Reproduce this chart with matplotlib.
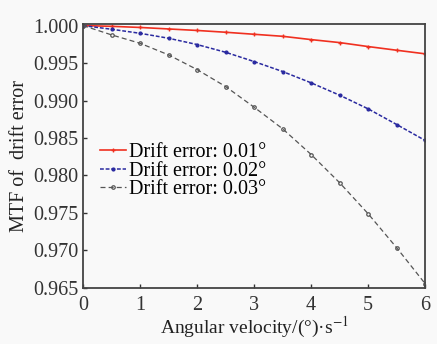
import matplotlib
matplotlib.use("Agg")
import matplotlib.pyplot as plt

plt.rcParams['font.family'] = ['Liberation Serif', 'DejaVu Serif']
plt.rcParams['mathtext.fontset'] = 'stix'

velocity = [0, 0.5, 1, 1.5, 2, 2.5, 3, 3.5, 4, 4.5, 5, 5.5, 6]
mtf_001 = [1.0, 0.99990, 0.99975, 0.99955, 0.99935, 0.99911, 0.99884, 0.99857, 0.99813, 0.99773, 0.99720, 0.99671, 0.99623]
mtf_002 = [1.0, 0.99951, 0.99897, 0.99831, 0.99747, 0.99644, 0.99520, 0.99387, 0.99236, 0.99071, 0.98889, 0.98680, 0.98467]
mtf_003 = [1.0, 0.99876, 0.99764, 0.99609, 0.99413, 0.99187, 0.98911, 0.98623, 0.98280, 0.97903, 0.97489, 0.97036, 0.96556]
labels = ['Drift error: 0.01°', 'Drift error: 0.02°', 'Drift error: 0.03°']

fig = plt.figure(figsize=(4.37, 3.44), dpi=100, facecolor='#f9f9f9')
ax = fig.add_axes([0.190, 0.163, 0.783, 0.767])
ax.set_facecolor('#f9f9f9')

ax.plot(velocity, mtf_001, color='#f03020', lw=1.2, ls='-', marker='+', ms=3.5, mew=1.0, label=labels[0])
ax.plot(velocity, mtf_002, color='#2a2aa0', lw=1.1, ls=(0, (2.5, 1.2)), marker='.', ms=4, label=labels[1])
ax.plot(velocity, mtf_003, color='#555555', lw=0.9, ls=(0, (4, 2.5)), marker='o', ms=2.5, mfc='none', mew=0.9, label=labels[2])

yt = [0.965, 0.970, 0.975, 0.980, 0.985, 0.990, 0.995, 1.000]
ax.set_xlim(0, 6)
ax.set_ylim(0.965, 1.0002)
ax.set_xticks(range(0, 7))
ax.set_yticks(yt)
ax.set_yticklabels(['%.3f' % v for v in yt])
ax.tick_params(direction='in', length=3, width=1, labelsize=14.5, colors='#333333', pad=3)
ax.tick_params(axis='x', pad=6)
for s in ax.spines.values():
    s.set_linewidth(1.3)
    s.set_color('#444444')

ax.set_xlabel('Angular velocity/(°)·s$^{-1}$', fontsize=14, color='#222222', labelpad=0)
ax.set_ylabel('MTF of  drift error', fontsize=14.5, color='#222222', labelpad=3)

ax.legend(loc='center left', bbox_to_anchor=(0.05, 0.443), frameon=False, fontsize=14.5,
          handlelength=1.3, handletextpad=0.15, labelspacing=-0.02, borderaxespad=0, borderpad=0)

fig.savefig('out.png', dpi=100, facecolor=fig.get_facecolor())
